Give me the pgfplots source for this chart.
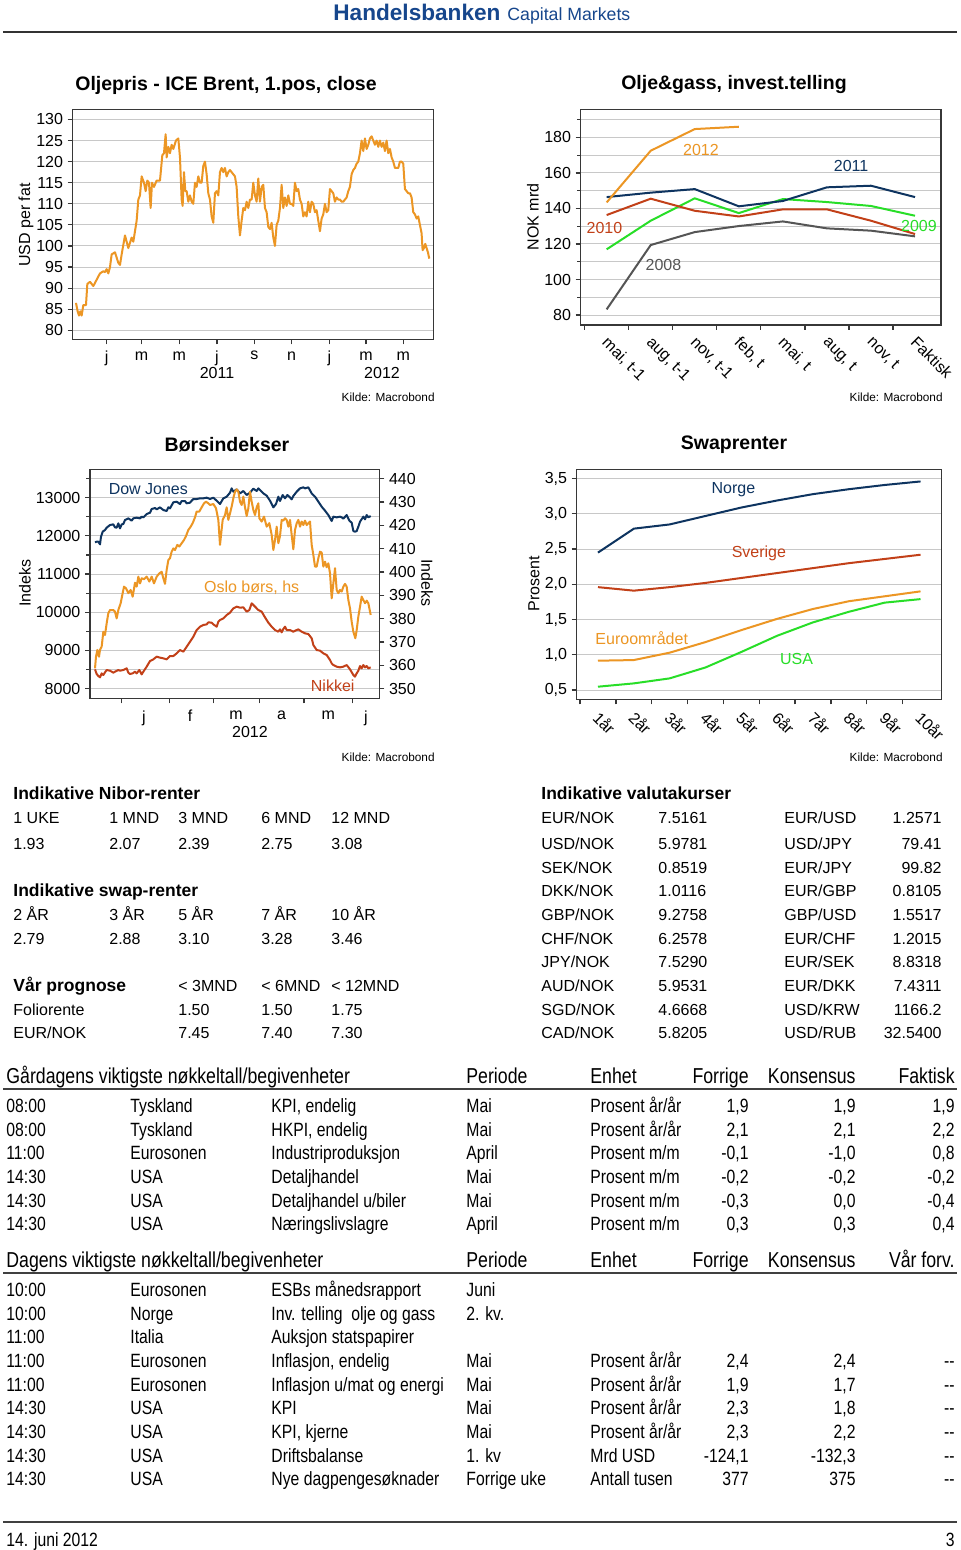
\documentclass[border=0pt]{standalone}
\usepackage{fontspec}
\setmainfont{Liberation Sans}
\newfontfamily\narrowfont[FakeStretch=0.82]{Liberation Sans}
\usepackage{pgfplots}
\pgfplotsset{compat=1.18}
\definecolor{orng}{RGB}{236,150,36}
\definecolor{navy}{RGB}{14,52,96}
\definecolor{rred}{RGB}{194,64,24}
\definecolor{grn}{RGB}{40,222,40}
\definecolor{dgray}{RGB}{85,85,85}
\definecolor{hb}{RGB}{22,70,140}
\definecolor{axcol}{RGB}{55,55,55}
\definecolor{gridcol}{RGB}{200,200,200}
\newcommand\fs[1]{\fontsize{#1}{#1}\selectfont}
\pgfplotsset{base/.style={
  scale only axis, anchor=south west,
  axis line style={draw=axcol, line width=0.75pt},
  tick style={draw=axcol, line width=0.6pt},
  tick align=outside, xtick pos=bottom, ytick pos=left,
  major tick length=2.5pt, minor tick length=1.8pt,
  grid style={draw=gridcol, line width=0.5pt},
  ymajorgrids, scaled y ticks=false,
  tick label style={font=\fs{8}, text=black},
  yticklabel style={xshift=1.2pt},
  /pgf/number format/assume math mode=true,
  /pgf/number format/1000 sep={},
  every axis plot/.append style={line width=1pt, line join=round},
}}
\tikzset{L/.style={anchor=base west, inner sep=0pt},
         R/.style={anchor=base east, inner sep=0pt},
         C/.style={anchor=center, inner sep=0pt}}
\newcommand\brow[9]{%
  \node[L] at (6,#1) {#2};
  \node[L] at (130,#1) {#3};
  \node[L] at (271,#1) {#4};
  \node[L] at (466,#1) {#5};
  \node[L] at (590,#1) {#6};
  \node[R] at (749,#1) {#7};
  \node[R] at (856,#1) {#8};
  \node[R] at (955,#1) {#9};}
\newcommand\vrow[5]{%
  \node[L] at (541,#1) {#2};
  \node[L] at (658,#1) {#3};
  \node[L] at (784,#1) {#4};
  \node[R] at (942,#1) {#5};}
\begin{document}
\begin{tikzpicture}
\begin{scope}[x=0.5pt,y=-0.5pt]
\path[use as bounding box, fill=white] (0,0) rectangle (960,1550);
% header
\node[L, text=hb, font=\bfseries\fs{11.3}] at (333,21) {Handelsbanken};
\node[L, text=hb, font=\fs{8.85}] at (507,21) {Capital Markets};
\draw[line width=1pt, draw=black!80] (3,32) -- (957,32);
% chart titles
\node[C, font=\bfseries\fs{9.75}] at (226,85) {Oljepris - ICE Brent, 1.pos, close};
\node[C, font=\bfseries\fs{9.75}] at (734,85) {Olje\&gass, invest.telling};
\node[C, font=\bfseries\fs{9.75}] at (227,445) {Børsindekser};
\node[C, font=\bfseries\fs{9.75}] at (734,445) {Swaprenter};
% axis labels
\node[C, rotate=90, font=\fs{8}] at (26,225) {USD per fat};
\node[C, rotate=90, font=\fs{8}] at (533,217) {NOK mrd};
\node[C, rotate=90, font=\fs{8}] at (25,583) {Indeks};
\node[C, rotate=-90, font=\fs{8}] at (427,583) {Indeks};
\node[C, rotate=90, font=\fs{8}] at (534,584) {Prosent};
\node[C, font=\fs{8}] at (217,373) {2011};
\node[C, font=\fs{8}] at (382,373) {2012};
\node[C, font=\fs{8}] at (250,732) {2012};
\node[R, font=\fs{5.9}] at (435,402) {Kilde: Macrobond};
\node[R, font=\fs{5.9}] at (943,402) {Kilde: Macrobond};
\node[R, font=\fs{5.9}] at (435,761) {Kilde: Macrobond};
\node[R, font=\fs{5.9}] at (943,761) {Kilde: Macrobond};
% upper left tables
\begin{scope}[font=\fs{8}]
\node[L, font=\bfseries\fs{8.75}] at (13,799) {Indikative Nibor-renter};
\node[L] at (13,823) {1 UKE}; \node[L] at (109,823) {1 MND}; \node[L] at (178,823) {3 MND}; \node[L] at (261,823) {6 MND}; \node[L] at (331,823) {12 MND};
\node[L] at (13,849) {1.93}; \node[L] at (109,849) {2.07}; \node[L] at (178,849) {2.39}; \node[L] at (261,849) {2.75}; \node[L] at (331,849) {3.08};
\node[L, font=\bfseries\fs{8.75}] at (13,896) {Indikative swap-renter};
\node[L] at (13,920) {2 ÅR}; \node[L] at (109,920) {3 ÅR}; \node[L] at (178,920) {5 ÅR}; \node[L] at (261,920) {7 ÅR}; \node[L] at (331,920) {10 ÅR};
\node[L] at (13,944) {2.79}; \node[L] at (109,944) {2.88}; \node[L] at (178,944) {3.10}; \node[L] at (261,944) {3.28}; \node[L] at (331,944) {3.46};
\node[L, font=\bfseries\fs{8.75}] at (13,991) {Vår prognose};
\node[L] at (178,991) {< 3MND}; \node[L] at (261,991) {< 6MND}; \node[L] at (331,991) {< 12MND};
\node[L] at (13,1015) {Foliorente}; \node[L] at (178,1015) {1.50}; \node[L] at (261,1015) {1.50}; \node[L] at (331,1015) {1.75};
\node[L] at (13,1038) {EUR/NOK}; \node[L] at (178,1038) {7.45}; \node[L] at (261,1038) {7.40}; \node[L] at (331,1038) {7.30};
% valuta
\node[L, font=\bfseries\fs{8.75}] at (541,799) {Indikative valutakurser};
\vrow{823}{EUR/NOK}{7.5161}{EUR/USD}{1.2571}
\vrow{849}{USD/NOK}{5.9781}{USD/JPY}{79.41}
\vrow{873}{SEK/NOK}{0.8519}{EUR/JPY}{99.82}
\vrow{896}{DKK/NOK}{1.0116}{EUR/GBP}{0.8105}
\vrow{920}{GBP/NOK}{9.2758}{GBP/USD}{1.5517}
\vrow{944}{CHF/NOK}{6.2578}{EUR/CHF}{1.2015}
\vrow{967}{JPY/NOK}{7.5290}{EUR/SEK}{8.8318}
\vrow{991}{AUD/NOK}{5.9531}{EUR/DKK}{7.4311}
\vrow{1015}{SGD/NOK}{4.6668}{USD/KRW}{1166.2}
\vrow{1038}{CAD/NOK}{5.8205}{USD/RUB}{32.5400}
\end{scope}
% bottom tables
\begin{scope}[font=\narrowfont\fs{10.8}]
\brow{1083}{Gårdagens viktigste nøkkeltall/begivenheter}{}{}{Periode}{Enhet}{Forrige}{Konsensus}{Faktisk}
\end{scope}
\draw[line width=1pt, draw=black!75] (3,1089) -- (957,1089);
\begin{scope}[font=\narrowfont\fs{9.6}]
\brow{1112}{08:00}{Tyskland}{KPI, endelig}{Mai}{Prosent år/år}{1,9}{1,9}{1,9}
\brow{1136}{08:00}{Tyskland}{HKPI, endelig}{Mai}{Prosent år/år}{2,1}{2,1}{2,2}
\brow{1159}{11:00}{Eurosonen}{Industriproduksjon}{April}{Prosent m/m}{-0,1}{-1,0}{0,8}
\brow{1183}{14:30}{USA}{Detaljhandel}{Mai}{Prosent m/m}{-0,2}{-0,2}{-0,2}
\brow{1207}{14:30}{USA}{Detaljhandel u/biler}{Mai}{Prosent m/m}{-0,3}{0,0}{-0,4}
\brow{1230}{14:30}{USA}{Næringslivslagre}{April}{Prosent m/m}{0,3}{0,3}{0,4}
\end{scope}
\begin{scope}[font=\narrowfont\fs{10.8}]
\brow{1267}{Dagens viktigste nøkkeltall/begivenheter}{}{}{Periode}{Enhet}{Forrige}{Konsensus}{Vår forv.}
\end{scope}
\draw[line width=1pt, draw=black!75] (3,1273) -- (957,1273);
\begin{scope}[font=\narrowfont\fs{9.6}]
\brow{1296}{10:00}{Eurosonen}{ESBs månedsrapport}{Juni}{}{}{}{}
\brow{1320}{10:00}{Norge}{Inv. telling\ \ olje og gass}{2. kv.}{}{}{}{}
\brow{1343}{11:00}{Italia}{Auksjon statspapirer}{}{}{}{}{}
\brow{1367}{11:00}{Eurosonen}{Inflasjon, endelig}{Mai}{Prosent år/år}{2,4}{2,4}{-{}-}
\brow{1391}{11:00}{Eurosonen}{Inflasjon u/mat og energi}{Mai}{Prosent år/år}{1,9}{1,7}{-{}-}
\brow{1414}{14:30}{USA}{KPI}{Mai}{Prosent år/år}{2,3}{1,8}{-{}-}
\brow{1438}{14:30}{USA}{KPI, kjerne}{Mai}{Prosent år/år}{2,3}{2,2}{-{}-}
\brow{1462}{14:30}{USA}{Driftsbalanse}{1. kv}{Mrd USD}{-124,1}{-132,3}{-{}-}
\brow{1485}{14:30}{USA}{Nye dagpengesøknader}{Forrige uke}{Antall tusen}{377}{375}{-{}-}
\end{scope}
\draw[line width=1pt, draw=black!75] (3,1522) -- (957,1522);
\node[L, font=\narrowfont\fs{9.6}] at (6,1546) {14. juni 2012};
\node[R, font=\narrowfont\fs{9.6}] at (955,1546) {3};
\end{scope}

% ---------- Chart 1: Brent ----------
\begin{axis}[base, at={(36.33pt,-169.67pt)}, width=180.3pt, height=115pt,
  xmin=218, xmax=1300, ymin=77.86, ymax=132.4,
  ytick={80,85,...,130},
  xtick={320,425,538,651,763,875,988,1098,1210},
  xticklabels={j,m,m,j,s,n,j,m,m}]
\addplot[orng] table {
228 86.5
233 84.5
237 83.5
241 84.5
245 83.5
250 86
258 86
262 91
270 91.5
280 90.5
290 92
300 93.5
310 94
315 93.8
320 94.5
325 93.5
330 95
335 98
345 98.5
355 96
360 95.5
365 98
375 102.5
385 99.5
395 102
400 101
405 103.5
410 106
415 111
420 112
425 116.5
432 115
437 113
442 115.5
447 115
452 109
456 115
462 114
470 115.5
480 115.5
487 121.5
492 122
497 126.5
500 121
505 123.5
510 122
515 124
520 123
528 125
535 125.5
540 121
545 111
548 109.5
552 117.5
556 113
560 113
565 110.5
570 112
575 110.5
580 110
585 115
590 114
595 116.5
600 115
605 115
610 119
615 120
620 117
625 112.5
630 111
635 107
640 105.5
645 112.5
650 113
655 112
660 117.5
665 118.5
670 117.5
675 118.5
680 116.5
685 117.5
690 118
695 117.5
700 117
705 116.5
710 114
715 107
720 102.5
725 106
730 109
735 108.5
740 110.5
745 109
750 111
755 111
760 115
765 112
770 110.5
775 116
780 110.5
785 114
790 114.5
795 109
800 108
805 104.5
810 104
815 105.5
820 102
825 100
830 105
835 106
840 109
845 114.5
850 109
855 111.5
860 109.5
865 112
870 110
875 110
880 109.5
885 115
890 113
895 113.5
900 111
905 110
910 107
915 108
920 107
925 110.5
930 108
935 110.5
940 110
945 108
950 108.5
955 106
960 103.5
965 106.5
970 107.5
975 110
980 108
985 108.5
990 113.5
995 113
1000 112.5
1005 110.5
1010 111.5
1015 111
1020 111
1025 110.5
1030 110.5
1035 111
1040 111.5
1045 113
1050 114
1055 117
1060 118
1065 118.5
1070 119.5
1075 120
1080 122
1085 125
1090 122.5
1095 125.5
1100 123
1105 124
1110 125.5
1115 126
1120 125
1125 124
1130 125
1135 123.5
1140 125
1145 123.5
1150 124.5
1155 122.5
1160 125
1165 122
1170 123
1175 121
1180 120
1185 118.5
1190 118.5
1195 118.5
1200 120
1205 120
1210 119.5
1215 113.5
1220 113
1225 112.5
1230 112.5
1235 111.5
1240 108
1245 107.5
1250 106.5
1255 107
1260 105
1265 103
1268 99
1272 99.5
1276 100.5
1280 99.5
1284 98.5
1288 97
};
\end{axis}

% ---------- Chart 2: Olje & gass ----------
\begin{axis}[base, at={(290.33pt,-162.5pt)}, width=180.17pt, height=107.83pt,
  xmin=-0.59, xmax=7.59, ymin=74.4, ymax=195.8,
  ytick={80,100,...,180}, minor ytick={90,110,...,190}, yminorgrids,
  xtick={-0.5,0.5,...,6.5}, xticklabels={},
  extra x ticks={0,1,2,3,4,5,6,7},
  extra x tick labels={{mai, t-1},{aug, t-1},{nov, t-1},{feb, t},{mai, t},{aug, t},{nov, t},{Faktisk}},
  extra x tick style={major tick length=0pt,
    xticklabel style={yshift=-5pt, xshift=1.5pt, rotate=-45, anchor=north west, inner sep=0pt}}]
\addplot[dgray] coordinates {(0,83.2) (1,119.4) (2,126.7) (3,130.1) (4,132.7) (5,128.8) (6,127.5) (7,124.3)};
\addplot[grn] coordinates {(0,117) (1,133.1) (2,145.7) (3,137.4) (4,145.3) (5,143.6) (6,141.4) (7,135.9)};
\addplot[rred] coordinates {(0,136.3) (1,145.5) (2,138.7) (3,135.5) (4,139.5) (5,139.5) (6,133.1) (7,125.6)};
\addplot[navy] coordinates {(0,146.4) (1,148.9) (2,150.9) (3,141.2) (4,144.2) (5,151.9) (6,152.8) (7,146.4)};
\addplot[orng] coordinates {(0,143.4) (1,172.5) (2,184.7) (3,186)};
\node[text=orng, font=\fs{8}] at (axis cs:2.14,172.9) {2012};
\node[text=navy, font=\fs{8}] at (axis cs:5.55,164) {2011};
\node[text=rred, font=\fs{8}] at (axis cs:-0.05,128.8) {2010};
\node[text=grn, font=\fs{8}] at (axis cs:7.09,130) {2009};
\node[text=dgray, font=\fs{8}] at (axis cs:1.29,108.2) {2008};
\end{axis}

% ---------- Chart 3: Børsindekser ----------
\begin{axis}[base, at={(45pt,-349.17pt)}, width=144.67pt, height=114.5pt,
  xmin=270, xmax=1138, ymin=7747, ymax=13742,
  ytick={8000,9000,...,13000}, minor ytick={8500,9500,...,13500}, yminorgrids,
  xtick={365,508,640,778,912,1058}, xticklabels={},
  extra x ticks={432,570,708,845,985,1098},
  extra x tick labels={j,f,m,a,m,j},
  extra x tick style={major tick length=0pt, xticklabel style={yshift=-2.5pt}}]
\addplot[navy] table {
285 11831
290 11848
295 11848
300 11778
303 11979
308 12110
315 12154
320 12215
330 12284
340 12302
345 12223
350 12215
355 12328
360 12197
365 12302
370 12311
375 12415
385 12459
395 12398
400 12459
410 12476
420 12459
425 12503
430 12485
440 12572
450 12607
455 12703
465 12729
470 12695
480 12747
490 12677
500 12651
505 12747
510 12721
520 12878
530 12895
540 12834
545 12913
555 12913
560 12852
570 12869
575 12921
580 12965
590 12965
600 12983
610 12983
620 13000
630 12965
640 13000
650 12921
660 12834
670 12983
680 13026
690 13131
695 13244
700 13157
710 13218
720 13113
730 13175
740 13070
750 13131
760 13236
770 13175
775 13244
785 13157
790 13113
800 13052
810 12921
820 12747
828 12834
835 13026
840 12913
848 13070
855 12983
862 13070
868 13026
875 12956
880 13044
890 13157
900 13244
910 13271
915 13244
925 13271
935 13113
945 13026
955 12895
965 12764
975 12660
985 12546
995 12389
1000 12503
1010 12485
1020 12503
1025 12485
1030 12450
1040 12546
1048 12398
1055 12346
1060 12127
1065 12110
1070 12127
1075 12241
1080 12372
1090 12503
1095 12433
1100 12546
1105 12485
1112 12520
};
\addplot[rred] table {
285 8506
290 8384
295 8332
300 8297
305 8401
310 8358
315 8428
320 8489
330 8471
340 8419
345 8445
355 8489
360 8471
370 8489
380 8532
385 8419
390 8384
398 8401
405 8445
410 8401
418 8489
425 8375
430 8445
440 8576
450 8724
460 8768
470 8838
480 8812
490 8794
500 8768
505 8812
510 8855
520 8855
530 8925
540 9012
550 8969
560 9099
570 9230
580 9361
590 9536
600 9623
610 9667
620 9684
625 9737
635 9728
640 9684
650 9623
655 9754
660 9798
670 9841
680 9928
690 9990
700 10103
710 10147
720 10121
730 10129
740 10016
748 10059
755 10234
765 10147
775 10059
785 10016
795 9867
805 9728
815 9623
825 9536
835 9492
840 9553
845 9475
850 9562
855 9623
860 9536
870 9536
880 9492
890 9536
895 9553
905 9492
915 9449
925 9431
935 9318
940 9143
950 9012
960 8995
970 8925
980 8881
990 8750
995 8663
1000 8619
1010 8576
1020 8558
1030 8576
1040 8619
1050 8506
1060 8358
1065 8314
1070 8401
1075 8471
1080 8593
1085 8532
1090 8619
1095 8558
1100 8593
1105 8532
1112 8558
};
\node[text=navy, font=\fs{8}] at (axis cs:445,13218) {Dow Jones};
\node[text=orng, font=\fs{8}] at (axis cs:755,10653) {Oslo børs, hs};
\node[text=rred, font=\fs{8}] at (axis cs:998,8070) {Nikkei};
\end{axis}
\begin{axis}[base, at={(45pt,-349.17pt)}, width=144.67pt, height=114.5pt,
  xmin=270, xmax=1138, ymin=345.86, ymax=443.96,
  hide x axis, ymajorgrids=false, ytick pos=right, yticklabel pos=right,
  yticklabel style={xshift=-2.4pt},
  ytick={350,360,...,440}]
\addplot[orng] table {
285 358.7
288 363.7
292 366.6
297 363.7
300 366.6
305 368.0
310 374.4
315 373.0
320 378.0
325 382.3
330 383.7
340 383.7
345 383.0
350 380.1
355 383.7
362 386.6
368 390.9
372 393.7
378 393.0
385 390.9
392 392.3
398 389.4
405 395.4
410 393.7
415 398.0
420 395.1
425 397.3
432 396.9
440 398.0
448 395.9
455 398.0
462 395.1
470 398.0
478 399.4
485 400.1
490 397.3
495 394.9
500 400.9
505 405.1
510 405.9
515 408.7
520 410.1
525 409.4
532 411.6
538 410.9
545 412.3
552 413.7
558 415.4
565 418.0
572 419.4
578 420.9
585 423.4
590 425.9
598 425.9
605 427.7
612 429.4
618 430.1
625 429.4
630 428.7
640 429.1
648 427.3
655 422.3
660 411.6
668 422.3
675 424.4
680 427.7
685 422.3
690 425.1
695 428.0
700 431.6
705 434.4
710 435.4
715 434.4
720 430.1
725 428.7
730 432.3
735 427.7
740 424.0
745 427.3
750 434.4
755 430.1
760 426.6
765 424.4
770 427.7
775 429.4
778 423.0
785 421.6
792 423.7
800 419.4
808 420.9
815 415.9
820 409.4
825 413.7
830 419.4
835 412.3
840 415.4
845 422.3
850 422.0
855 423.0
860 422.3
865 419.4
870 422.3
875 415.9
880 409.7
885 418.0
890 420.9
895 422.3
900 419.4
905 421.6
910 420.1
915 422.0
920 420.1
925 420.9
930 421.6
935 411.6
940 407.3
945 402.3
950 402.3
955 405.9
960 408.7
965 408.3
970 402.3
975 404.4
980 402.0
985 403.7
990 399.4
995 388.7
1000 395.1
1005 401.6
1010 392.3
1015 390.9
1020 392.3
1025 391.6
1030 393.7
1035 394.9
1040 393.7
1045 388.0
1050 384.4
1055 378.7
1060 374.4
1066 371.6
1070 375.1
1075 380.9
1080 385.1
1085 389.4
1090 388.0
1095 386.6
1100 387.7
1105 386.6
1112 381.6
};
\end{axis}

% ---------- Chart 4: Swaprenter ----------
\begin{axis}[base, at={(288.33pt,-349.67pt)}, width=182.5pt, height=115pt,
  xmin=-0.595, xmax=9.59, ymin=0.3675, ymax=3.632,
  ytick={0.5,1,...,3.5},
  yticklabel style={/pgf/number format/.cd, fixed, fixed zerofill, precision=1, use comma},
  xtick={-0.5,0.5,...,8.5}, xticklabels={},
  extra x ticks={0,1,...,9},
  extra x tick labels={1år,2år,3år,4år,5år,6år,7år,8år,9år,10år},
  extra x tick style={major tick length=0pt,
    xticklabel style={yshift=-5pt, xshift=1.5pt, rotate=-45, anchor=north west, inner sep=0pt}}]
\addplot[navy] coordinates {(0,2.45) (1,2.79) (2,2.85) (3,2.97) (4,3.09) (5,3.19) (6,3.28) (7,3.35) (8,3.41) (9,3.46)};
\addplot[rred] coordinates {(0,1.96) (1,1.91) (2,1.96) (3,2.02) (4,2.09) (5,2.16) (6,2.23) (7,2.30) (8,2.36) (9,2.42)};
\addplot[orng] coordinates {(0,0.916) (1,0.925) (2,1.03) (3,1.18) (4,1.35) (5,1.51) (6,1.65) (7,1.76) (8,1.83) (9,1.90)};
\addplot[grn] coordinates {(0,0.547) (1,0.594) (2,0.665) (3,0.82) (4,1.04) (5,1.27) (6,1.46) (7,1.61) (8,1.74) (9,1.79)};
\node[text=navy, font=\fs{8}] at (axis cs:3.78,3.34) {Norge};
\node[text=rred, font=\fs{8}] at (axis cs:4.49,2.44) {Sverige};
\node[text=orng, font=\fs{8}] at (axis cs:1.22,1.23) {Euroområdet};
\node[text=grn, font=\fs{8}] at (axis cs:5.54,0.935) {USA};
\end{axis}
\end{tikzpicture}
\end{document}
